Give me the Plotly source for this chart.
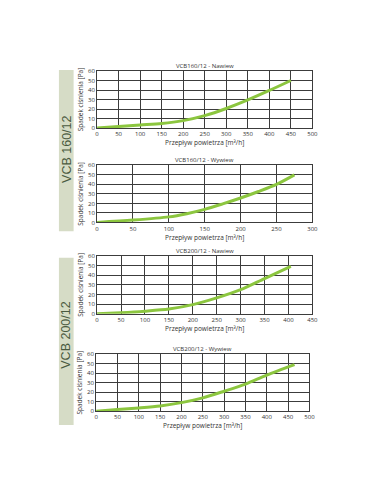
import plotly.graph_objects as go

PAGE_W, PAGE_H = 381, 492
OFF = 8  # default body margin of the html page
W, H = PAGE_W - OFF, PAGE_H - 2 * OFF

# Data
titles = ["VCB160/12 - Nawiew", "VCB160/12 - Wywiew", "VCB200/12 - Nawiew", "VCB200/12 - Wywiew"]
x1 = [0, 50, 100, 150, 200, 250, 300, 350, 400, 450]
y1 = [0, 1.7, 3.3, 4.8, 7.8, 13, 20.5, 29.5, 39.5, 50]
x2 = [0, 50, 100, 125, 150, 175, 200, 225, 250, 275]
y2 = [0, 2.4, 5.8, 9.2, 13.7, 19.5, 25.7, 32.5, 40, 50]
x3 = [0, 50, 100, 150, 200, 250, 300, 350, 405]
y3 = [0, 1.2, 2.8, 5, 9.5, 16.5, 25, 36.5, 49]
x4 = [0, 50, 100, 150, 200, 250, 300, 350, 400, 465]
y4 = [0, 1.7, 3.4, 5.5, 9, 14, 21, 28.5, 38, 49]
xmax = [500, 300, 450, 500]
xdtick = [50, 50, 50, 50]
yticks = [0, 10, 20, 30, 40, 50, 60]
band_labels = ["VCB 160/12", "VCB 200/12"]

series = [(x1, y1), (x2, y2), (x3, y3), (x4, y4)]
# page pixel boxes (left, right, top, bottom)
boxes = [(97, 317, 68, 126), (97, 317, 164, 222), (97, 317, 256, 315), (96, 314, 356, 414)]


def px(x):
    return (x - OFF) / W


def py(y):
    return 1 - (y - OFF) / H


fig = go.Figure()
GRID = "#3c3c3c"
TXT = "#333333"
FONT = "Open Sans"

for i, ((xs, ys), (l, r, t, b)) in enumerate(zip(series, boxes)):
    n = "" if i == 0 else str(i + 1)
    fig.add_trace(go.Scatter(x=xs, y=ys, mode="lines",
                             line=dict(color="#8cc63f", width=3, shape="spline", smoothing=0.8),
                             xaxis="x" + n, yaxis="y" + n, showlegend=False, hoverinfo="skip"))
    fig.layout["xaxis" + n] = dict(domain=[px(l), px(r)], anchor="y" + n, range=[0, xmax[i]], dtick=xdtick[i],
                                   tick0=0, showgrid=True, gridcolor=GRID, gridwidth=1, zeroline=False,
                                   showline=True, linecolor=GRID, linewidth=1, mirror=True, ticks="",
                                   tickfont=dict(size=6, color=TXT, family=FONT),
                                   title=dict(text="Przepływ powietrza [m³/h]",
                                              font=dict(size=6.5, color=TXT, family=FONT), standoff=2))
    fig.layout["yaxis" + n] = dict(domain=[py(b), py(t)], anchor="x" + n, range=[0, 60], tickvals=yticks,
                                   showgrid=True, gridcolor=GRID, gridwidth=1, zeroline=False,
                                   showline=True, linecolor=GRID, linewidth=1, mirror=True, ticks="",
                                   tickfont=dict(size=6, color=TXT, family=FONT),
                                   title=dict(text="Spadek ciśnienia [Pa]",
                                              font=dict(size=6.5, color=TXT, family=FONT), standoff=3))
    fig.add_annotation(x=px((l + r) / 2), y=py(t - 5), xref="paper", yref="paper", text=titles[i],
                       showarrow=False, font=dict(size=6, color=TXT, family=FONT),
                       xanchor="center", yanchor="middle")

# side bands (top, bottom, label centre)
bands = [(67, 231, 148), (258, 428, 337)]
for (bt, bb, bc), lab in zip(bands, band_labels):
    fig.add_shape(type="rect", xref="paper", yref="paper", x0=px(58), x1=px(73), y0=py(bb), y1=py(bt),
                  fillcolor="#d6dcc6", line=dict(width=0), layer="below")
    fig.add_annotation(x=px(65.5), y=py(bc), xref="paper", yref="paper", text=lab, textangle=-90,
                       showarrow=False, font=dict(size=12.5, color="#4a5a40", family="Liberation Sans"),
                       xanchor="center", yanchor="middle")

fig.update_layout(width=W, height=H, margin=dict(l=0, r=0, t=0, b=0),
                  paper_bgcolor="white", plot_bgcolor="white")
fig.write_html("out.html")
